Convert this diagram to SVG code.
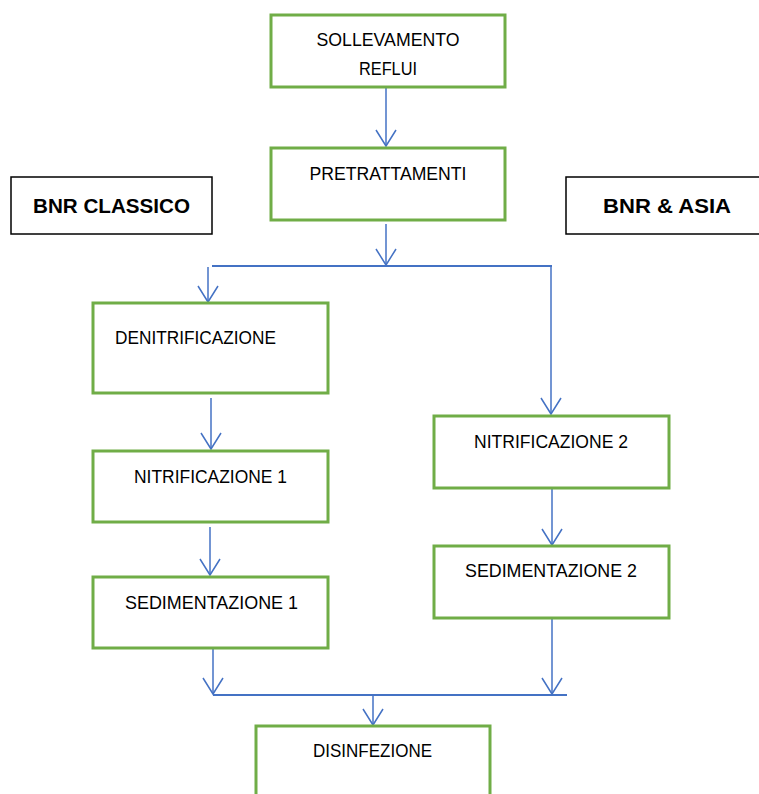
<svg xmlns="http://www.w3.org/2000/svg" width="759" height="794" viewBox="0 0 759 794">
<style>
.box{fill:#fff;stroke:#70AD47;stroke-width:3}
.hdr{fill:#fff;stroke:#000;stroke-width:1.5}
.t{font-family:"Liberation Sans",Arial,sans-serif;font-size:18px;fill:#000;text-anchor:middle}
.b{font-family:"Liberation Sans",Arial,sans-serif;font-size:21px;font-weight:bold;fill:#000;text-anchor:middle}
.c{stroke:#4472C4;stroke-width:1.5;fill:none}
.h{stroke:#4472C4;stroke-width:2;fill:none}
</style>
<defs>
<marker id="arr" markerUnits="userSpaceOnUse" markerWidth="24" markerHeight="20" refX="17" refY="10" orient="auto" overflow="visible">
<path d="M1,0 L17,10 L1,20" fill="none" stroke="#4472C4" stroke-width="1.5"/>
</marker>
</defs>
<rect width="759" height="794" fill="#fff"/>
<g id="connectors">
<line class="c" x1="386" y1="87" x2="386" y2="146" marker-end="url(#arr)"/>
<line class="c" x1="386" y1="224" x2="386" y2="265" marker-end="url(#arr)"/>
<line class="h" x1="212" y1="266" x2="552" y2="266"/>
<line class="c" x1="208" y1="267" x2="208" y2="302" marker-end="url(#arr)"/>
<line class="c" x1="551" y1="266" x2="551" y2="414" marker-end="url(#arr)"/>
<line class="c" x1="211" y1="398" x2="211" y2="449" marker-end="url(#arr)"/>
<line class="c" x1="210" y1="527" x2="210" y2="575" marker-end="url(#arr)"/>
<line class="c" x1="552" y1="489" x2="552" y2="545" marker-end="url(#arr)"/>
<line class="c" x1="213" y1="649" x2="213" y2="694" marker-end="url(#arr)"/>
<line class="c" x1="552" y1="619" x2="552" y2="694" marker-end="url(#arr)"/>
<line class="h" x1="213" y1="695" x2="567" y2="695"/>
<line class="c" x1="373" y1="695" x2="373" y2="725" marker-end="url(#arr)"/>
</g>
<g id="sollevamento">
<rect class="box" x="271" y="15" width="234" height="72"/>
<text class="t" x="388" y="46" textLength="143" lengthAdjust="spacingAndGlyphs">SOLLEVAMENTO</text>
<text class="t" x="388" y="75" textLength="58" lengthAdjust="spacingAndGlyphs">REFLUI</text>
</g>
<g id="pretrattamenti">
<rect class="box" x="271" y="148" width="234" height="72"/>
<text class="t" x="388" y="180" textLength="157" lengthAdjust="spacingAndGlyphs">PRETRATTAMENTI</text>
</g>
<g id="bnr-classico">
<rect class="hdr" x="11" y="177" width="201" height="57"/>
<text class="b" x="111.5" y="213" textLength="157" lengthAdjust="spacingAndGlyphs">BNR CLASSICO</text>
</g>
<g id="bnr-asia">
<rect class="hdr" x="566" y="177" width="196" height="57"/>
<text class="b" x="667" y="213" textLength="128" lengthAdjust="spacingAndGlyphs">BNR &amp; ASIA</text>
</g>
<g id="denitrificazione">
<rect class="box" x="93" y="303" width="235" height="90"/>
<text class="t" x="195.5" y="344" textLength="161" lengthAdjust="spacingAndGlyphs">DENITRIFICAZIONE</text>
</g>
<g id="nitrificazione1">
<rect class="box" x="93" y="451" width="235" height="71"/>
<text class="t" x="210.5" y="483" textLength="153" lengthAdjust="spacingAndGlyphs">NITRIFICAZIONE 1</text>
</g>
<g id="sedimentazione1">
<rect class="box" x="93" y="577" width="235" height="71"/>
<text class="t" x="211.5" y="609" textLength="173" lengthAdjust="spacingAndGlyphs">SEDIMENTAZIONE 1</text>
</g>
<g id="nitrificazione2">
<rect class="box" x="434" y="416" width="235" height="72"/>
<text class="t" x="551" y="448" textLength="154" lengthAdjust="spacingAndGlyphs">NITRIFICAZIONE 2</text>
</g>
<g id="sedimentazione2">
<rect class="box" x="434" y="546" width="235" height="72"/>
<text class="t" x="551" y="577" textLength="172" lengthAdjust="spacingAndGlyphs">SEDIMENTAZIONE 2</text>
</g>
<g id="disinfezione">
<rect class="box" x="256" y="726" width="234" height="80"/>
<text class="t" x="372.5" y="757" textLength="119" lengthAdjust="spacingAndGlyphs">DISINFEZIONE</text>
</g>
</svg>
